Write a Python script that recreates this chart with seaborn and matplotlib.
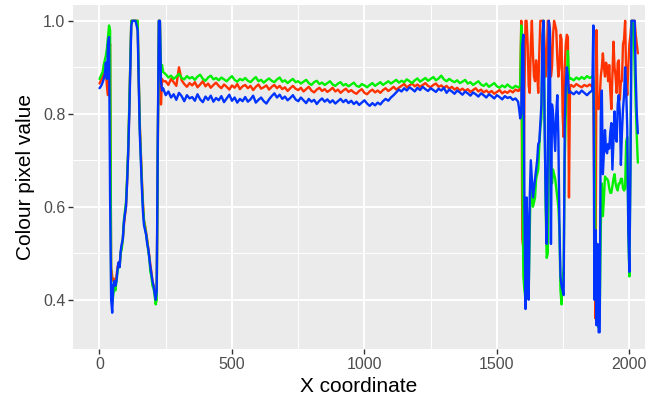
import matplotlib
matplotlib.use("Agg")
import matplotlib.pyplot as plt
import seaborn as sns
import pandas as pd
from matplotlib.ticker import FixedLocator

# Sample positions along the scan line (denser where the signal jumps)
x_coord = (list(range(0, 241, 4)) + list(range(250, 1581, 10))
           + list(range(1584, 1777, 4)) + list(range(1780, 1861, 10))
           + list(range(1864, 2033, 4)))

red_vals = [
    # 0 - 240
    0.865, 0.87, 0.875, 0.88, 0.885, 0.89, 0.895, 0.86, 0.84, 0.93,
    0.95, 0.47, 0.45, 0.44, 0.445, 0.44, 0.45, 0.47, 0.48, 0.475,
    0.50, 0.515, 0.53, 0.56, 0.58, 0.60, 0.65, 0.71, 0.80, 0.90,
    1.0, 1.0, 1.0, 1.0, 1.0, 1.0, 1.0, 0.88, 0.78, 0.72,
    0.66, 0.61, 0.57, 0.56, 0.545, 0.53, 0.51, 0.495, 0.475, 0.46,
    0.44, 0.43, 0.42, 0.405, 0.42, 0.70, 1.0, 1.0, 0.82, 0.875, 0.87,
    # 250 - 1580
    0.87, 0.862, 0.875, 0.868, 0.86, 0.9, 0.872, 0.864, 0.858, 0.866,
    0.861, 0.868, 0.857, 0.863, 0.87, 0.859, 0.865, 0.856, 0.862, 0.867,
    0.86, 0.855, 0.863, 0.858, 0.852, 0.861, 0.856, 0.864, 0.853, 0.859,
    0.862, 0.855, 0.86, 0.851, 0.858, 0.863, 0.854, 0.857, 0.861, 0.852,
    0.858, 0.862, 0.855, 0.86, 0.853, 0.857, 0.849, 0.855, 0.86, 0.854,
    0.851, 0.856, 0.848, 0.853, 0.858, 0.85, 0.846, 0.852, 0.856, 0.849,
    0.853, 0.847, 0.851, 0.856, 0.848, 0.852, 0.845, 0.85, 0.854, 0.847,
    0.851, 0.846, 0.843, 0.849, 0.853, 0.845, 0.842, 0.848, 0.852, 0.846,
    0.85, 0.845, 0.851, 0.855, 0.849, 0.853, 0.858, 0.852, 0.856, 0.86,
    0.864, 0.857, 0.861, 0.865, 0.859, 0.863, 0.858, 0.862, 0.866, 0.86,
    0.857, 0.862, 0.865, 0.858, 0.861, 0.856, 0.86, 0.854, 0.858, 0.852,
    0.856, 0.85, 0.854, 0.849, 0.853, 0.847, 0.851, 0.855, 0.848, 0.852,
    0.846, 0.85, 0.845, 0.849, 0.843, 0.847, 0.851, 0.844, 0.848, 0.845,
    0.85, 0.846, 0.852, 0.849,
    # 1584 - 1776
    0.85, 0.86, 1.0, 0.53, 0.51, 0.85, 1.0, 1.0, 0.95, 0.86,
    0.845, 0.95, 1.0, 0.93, 0.88, 0.87, 0.915, 0.89, 0.845, 0.93,
    1.0, 1.0, 1.0, 1.0, 0.95, 0.88, 0.90, 1.0, 1.0, 0.98,
    0.88, 0.90, 0.97, 1.0, 0.99, 0.98, 0.92, 0.88, 0.90, 0.97,
    0.96, 0.80, 0.75, 0.90, 0.95, 0.97, 0.965, 0.62, 0.86,
    # 1780 - 1860
    0.862, 0.858, 0.864, 0.86, 0.857, 0.862, 0.859, 0.863, 0.858,
    # 1864 - 2032
    0.87, 0.60, 0.36, 0.98, 0.82, 0.81, 0.83, 0.88, 0.90, 0.93,
    0.90, 0.88, 0.91, 0.90, 0.87, 0.905, 0.85, 0.81, 0.88, 0.955,
    0.90, 0.88, 0.845, 0.91, 0.915, 0.83, 0.87, 0.87, 0.95, 0.96,
    1.0, 0.88, 0.84, 0.90, 0.95, 0.97, 1.0, 1.0, 1.0, 1.0,
    0.97, 0.95, 0.93,
]

green_vals = [
    # 0 - 240
    0.875, 0.88, 0.885, 0.89, 0.905, 0.915, 0.925, 0.94, 0.965, 0.99,
    0.98, 0.42, 0.39, 0.41, 0.43, 0.42, 0.44, 0.46, 0.475, 0.47,
    0.50, 0.51, 0.53, 0.57, 0.59, 0.61, 0.66, 0.72, 0.81, 0.91,
    1.0, 1.0, 1.0, 1.0, 1.0, 1.0, 1.0, 0.88, 0.77, 0.71,
    0.65, 0.60, 0.57, 0.555, 0.54, 0.525, 0.505, 0.49, 0.46, 0.45,
    0.43, 0.425, 0.41, 0.39, 0.40, 0.73, 1.0, 1.0, 0.89, 0.905, 0.89,
    # 250 - 1580
    0.885, 0.878, 0.882, 0.875, 0.88, 0.886, 0.877, 0.874, 0.881, 0.876,
    0.879, 0.873, 0.88, 0.884, 0.875, 0.871, 0.878, 0.882, 0.874, 0.877,
    0.872, 0.878, 0.874, 0.87, 0.876, 0.881, 0.873, 0.869, 0.875, 0.872,
    0.877, 0.871, 0.868, 0.874, 0.879, 0.87, 0.873, 0.867, 0.872, 0.876,
    0.871, 0.868, 0.874, 0.878, 0.869, 0.872, 0.866, 0.871, 0.875, 0.868,
    0.87, 0.865, 0.869, 0.873, 0.866, 0.862, 0.868, 0.871, 0.864, 0.867,
    0.862, 0.866, 0.87, 0.863, 0.86, 0.865, 0.868, 0.861, 0.864, 0.859,
    0.863, 0.867, 0.86, 0.858, 0.864, 0.861, 0.857, 0.862, 0.866, 0.86,
    0.864, 0.868, 0.862, 0.866, 0.87, 0.865, 0.869, 0.873, 0.867, 0.871,
    0.868, 0.874, 0.87, 0.866, 0.872, 0.876, 0.869, 0.873, 0.877, 0.871,
    0.875, 0.879, 0.872, 0.876, 0.882, 0.874, 0.87, 0.875, 0.871, 0.868,
    0.872, 0.866, 0.869, 0.873, 0.865, 0.868, 0.862, 0.866, 0.87, 0.863,
    0.86, 0.865, 0.858, 0.862, 0.866, 0.859, 0.856, 0.861, 0.857, 0.863,
    0.858, 0.855, 0.86, 0.857,
    # 1584 - 1776
    0.858, 0.86, 0.99, 0.70, 0.45, 0.42, 0.40, 0.55, 0.45, 0.42,
    0.55, 0.66, 0.63, 0.60, 0.61, 0.62, 0.66, 0.67, 0.68, 0.73,
    0.77, 0.79, 0.95, 1.0, 0.80, 0.60, 0.49, 0.50, 0.70, 0.75,
    0.70, 0.65, 0.68, 0.67, 0.66, 0.64, 0.62, 0.60, 0.55, 0.42,
    0.39, 0.44, 0.47, 0.70, 0.80, 0.88, 0.935, 0.88, 0.875,
    # 1780 - 1860
    0.876, 0.872, 0.878, 0.874, 0.879, 0.875, 0.881, 0.877, 0.88,
    # 1864 - 2032
    0.88, 0.75, 0.50, 0.40, 0.37, 0.34, 0.36, 0.55, 0.65, 0.58,
    0.62, 0.665, 0.66, 0.66, 0.655, 0.64, 0.63, 0.63, 0.645, 0.66,
    0.67, 0.65, 0.64, 0.635, 0.65, 0.65, 0.66, 0.66, 0.64, 0.635,
    0.64, 0.74, 0.75, 0.55, 0.45, 0.68, 1.0, 1.0, 0.99, 0.90,
    0.82, 0.75, 0.695,
]

blue_vals = [
    # 0 - 240
    0.855, 0.858, 0.862, 0.868, 0.875, 0.885, 0.91, 0.875, 0.95, 0.965,
    0.62, 0.40, 0.372, 0.43, 0.44, 0.43, 0.44, 0.465, 0.48, 0.47,
    0.505, 0.52, 0.53, 0.565, 0.585, 0.60, 0.65, 0.71, 0.79, 0.89,
    0.99, 1.0, 1.0, 1.0, 1.0, 0.99, 0.98, 0.87, 0.76, 0.70,
    0.64, 0.59, 0.56, 0.55, 0.54, 0.52, 0.51, 0.49, 0.47, 0.455,
    0.44, 0.43, 0.415, 0.40, 0.42, 0.75, 1.0, 1.0, 0.87, 0.85, 0.855,
    # 250 - 1580
    0.84, 0.848, 0.835, 0.842, 0.83, 0.845, 0.838, 0.827, 0.84, 0.833,
    0.836, 0.828, 0.842, 0.831, 0.825, 0.837, 0.83, 0.839, 0.826, 0.834,
    0.829, 0.838, 0.825, 0.833, 0.841, 0.828, 0.835, 0.824, 0.832, 0.827,
    0.836, 0.826, 0.831, 0.839, 0.824, 0.83, 0.835, 0.827, 0.822, 0.831,
    0.838, 0.844, 0.835, 0.841, 0.832, 0.837, 0.829, 0.834, 0.84, 0.831,
    0.827, 0.835, 0.829, 0.823, 0.832, 0.826, 0.83, 0.821, 0.828, 0.833,
    0.826, 0.831, 0.824, 0.829, 0.822, 0.827, 0.832, 0.825, 0.83, 0.823,
    0.828, 0.821, 0.826, 0.819, 0.824, 0.829, 0.822, 0.817, 0.823, 0.818,
    0.824, 0.82, 0.827, 0.832, 0.828, 0.835, 0.84, 0.846, 0.852, 0.848,
    0.855, 0.85, 0.857, 0.853, 0.848, 0.856, 0.851, 0.858, 0.853, 0.849,
    0.855, 0.851, 0.847, 0.854, 0.85, 0.856, 0.845, 0.852, 0.848, 0.843,
    0.85, 0.846, 0.841, 0.848, 0.844, 0.839, 0.846, 0.842, 0.837, 0.844,
    0.84, 0.835, 0.842, 0.838, 0.833, 0.84, 0.836, 0.831, 0.838, 0.834,
    0.836, 0.83, 0.833, 0.826,
    # 1584 - 1776
    0.81, 0.79, 0.80, 0.95, 0.97, 0.60, 0.38, 0.62, 0.55, 0.40,
    0.62, 0.70, 0.66, 0.62, 0.64, 0.66, 0.68, 0.70, 0.735, 0.74,
    0.78, 0.82, 0.97, 1.0, 0.78, 0.62, 0.52, 0.70, 1.0, 0.98,
    0.52, 0.82, 0.80, 0.76, 0.72, 0.80, 0.84, 0.75, 0.56, 0.45,
    0.43, 0.42, 0.41, 0.78, 0.86, 0.90, 0.88, 0.845, 0.848,
    # 1780 - 1860
    0.846, 0.842, 0.848, 0.843, 0.85, 0.845, 0.84, 0.846, 0.85,
    # 1864 - 2032
    0.99, 0.40, 0.55, 0.345, 0.52, 0.33, 0.33, 0.80, 0.85, 0.67,
    0.72, 0.765, 0.72, 0.715, 0.735, 0.725, 0.76, 0.78, 0.68, 0.74,
    0.805, 0.75, 0.74, 0.82, 0.84, 0.80, 0.69, 0.76, 0.81, 0.84,
    0.90, 0.85, 0.77, 0.55, 0.46, 0.68, 1.0, 1.0, 1.0, 1.0,
    0.88, 0.80, 0.758,
]

channels = ["red", "green", "blue"]
line_colours = {"red": "#FF3300", "green": "#00F000", "blue": "#0033FF"}
x_ticks = [0, 500, 1000, 1500, 2000]
x_minor = [250, 750, 1250, 1750]
y_ticks = [0.4, 0.6, 0.8, 1.0]
y_tick_labels = ["0.4", "0.6", "0.8", "1.0"]
y_minor = [0.5, 0.7, 0.9]

series = {"red": red_vals, "green": green_vals, "blue": blue_vals}
for name, vals in series.items():
    assert len(vals) == len(x_coord), (name, len(vals), len(x_coord))

frames = [pd.DataFrame({"x": x_coord, "value": series[c], "channel": c})
          for c in channels]
df = pd.concat(frames, ignore_index=True)

sns.set_theme(style="darkgrid", rc={
    "axes.facecolor": "#EBEBEB",
    "figure.facecolor": "white",
    "grid.color": "white",
    "axes.axisbelow": True,
})
plt.rcParams["font.family"] = ["Liberation Sans", "DejaVu Sans"]

fig = plt.figure(figsize=(6.59, 4.01), dpi=100)
ax = fig.add_axes([73 / 659, 1 - 349 / 401, (645 - 73) / 659, (349 - 5) / 401])

sns.lineplot(data=df, x="x", y="value", hue="channel", hue_order=channels,
             palette=line_colours, estimator=None, sort=False,
             linewidth=1.7, legend=False, ax=ax)

ax.set_xlim(-100, 2059)
ax.set_ylim(0.294, 1.034)
ax.set_xticks(x_ticks)
ax.set_xticklabels([str(t) for t in x_ticks])
ax.set_yticks(y_ticks)
ax.set_yticklabels(y_tick_labels)
ax.xaxis.set_minor_locator(FixedLocator(x_minor))
ax.yaxis.set_minor_locator(FixedLocator(y_minor))
ax.grid(which="major", color="white", linewidth=1.4)
ax.grid(which="minor", color="white", linewidth=0.7)
ax.tick_params(which="minor", length=0)
ax.tick_params(which="major", bottom=True, left=True, length=3.5, width=1,
               color="#333333", labelcolor="#4D4D4D", labelsize=11.5, pad=2)
for spine in ax.spines.values():
    spine.set_visible(False)

ax.set_xlabel("X coordinate", fontsize=15, color="black", labelpad=4)
ax.set_ylabel("Colour pixel value", fontsize=15, color="black", labelpad=6)

fig.savefig("out.png", dpi=100)
